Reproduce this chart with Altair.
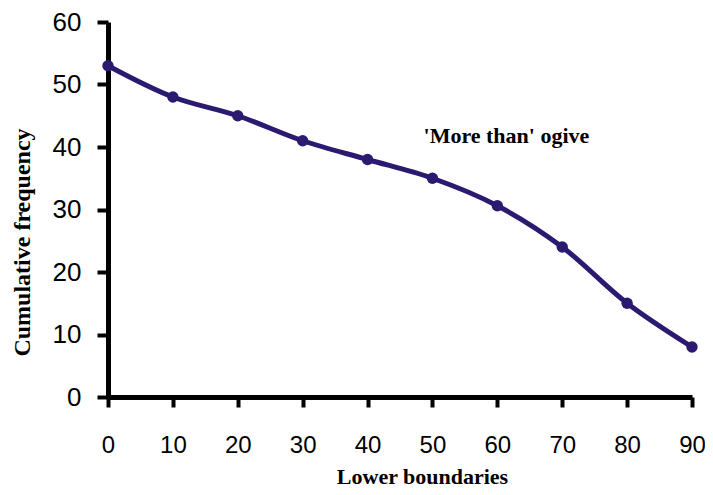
import altair as alt
import pandas as pd

lower_boundaries = [0, 10, 20, 30, 40, 50, 60, 70, 80, 90]
cumulative_freq = [53, 48, 45, 41, 38, 35, 30.6, 24, 15, 8]

x_ticks = [0, 10, 20, 30, 40, 50, 60, 70, 80, 90]
y_ticks = [0, 10, 20, 30, 40, 50, 60]

note_text = ["'More than' ogive"]
note_x = [61.4]
note_y = [40.6]

df = pd.DataFrame({"x": lower_boundaries, "y": cumulative_freq})
notes = pd.DataFrame({"x": note_x, "y": note_y, "t": note_text})

COLOR = "#2b1a70"

xscale = alt.Scale(domain=[0, 90], nice=False, zero=False)
yscale = alt.Scale(domain=[0, 60], nice=False)

xaxis = alt.Axis(
    values=x_ticks, grid=False, title="Lower boundaries",
    labelFont="Liberation Sans", labelFontSize=24, labelColor="black",
    labelBaseline="middle", labelPadding=38, labelFlush=False,
    tickSize=10, tickWidth=4, tickColor="black",
    domainColor="black", domainWidth=5,
    titleFont="Liberation Serif", titleFontWeight="bold", titleFontSize=22,
    titleColor="black", titleX=314, titleY=86, titleBaseline="alphabetic",
    titleAnchor="start", titleAlign="center",
)
yaxis = alt.Axis(
    values=y_ticks, grid=False, title="Cumulative frequency",
    labelFont="Liberation Sans", labelFontSize=26, labelColor="black",
    labelPadding=16, labelFlush=False,
    tickSize=11, tickWidth=4, tickColor="black",
    domainColor="black", domainWidth=5,
    titleFont="Liberation Serif", titleFontWeight="bold", titleFontSize=24,
    titleColor="black", titleX=-86, titleY=220, titleBaseline="middle",
    titleAlign="center", titleAngle=270,
)

base = alt.Chart(df).encode(
    x=alt.X("x:Q", scale=xscale, axis=xaxis),
    y=alt.Y("y:Q", scale=yscale, axis=yaxis),
)

line = base.mark_line(color=COLOR, strokeWidth=5, interpolate="catmull-rom")
pts = base.mark_circle(color=COLOR, size=130, opacity=1)

note = alt.Chart(notes).mark_text(
    font="Liberation Serif", fontWeight="bold", fontSize=22, color="black",
    align="center", baseline="alphabetic",
).encode(
    x=alt.X("x:Q", scale=xscale, axis=xaxis),
    y=alt.Y("y:Q", scale=yscale, axis=yaxis),
    text="t:N",
)

chart = alt.layer(line, pts, note).properties(
    width=584, height=375,
    autosize=alt.AutoSizeParams(type="none"),
    padding={"left": 100, "top": 14, "right": 13, "bottom": 90},
    background="white",
).configure_view(stroke=None).configure_axis(
    domainWidth=5, domainColor="black", tickWidth=4, tickColor="black",
)

chart.save("out.html", embed_options={"renderer": "svg", "actions": False})
